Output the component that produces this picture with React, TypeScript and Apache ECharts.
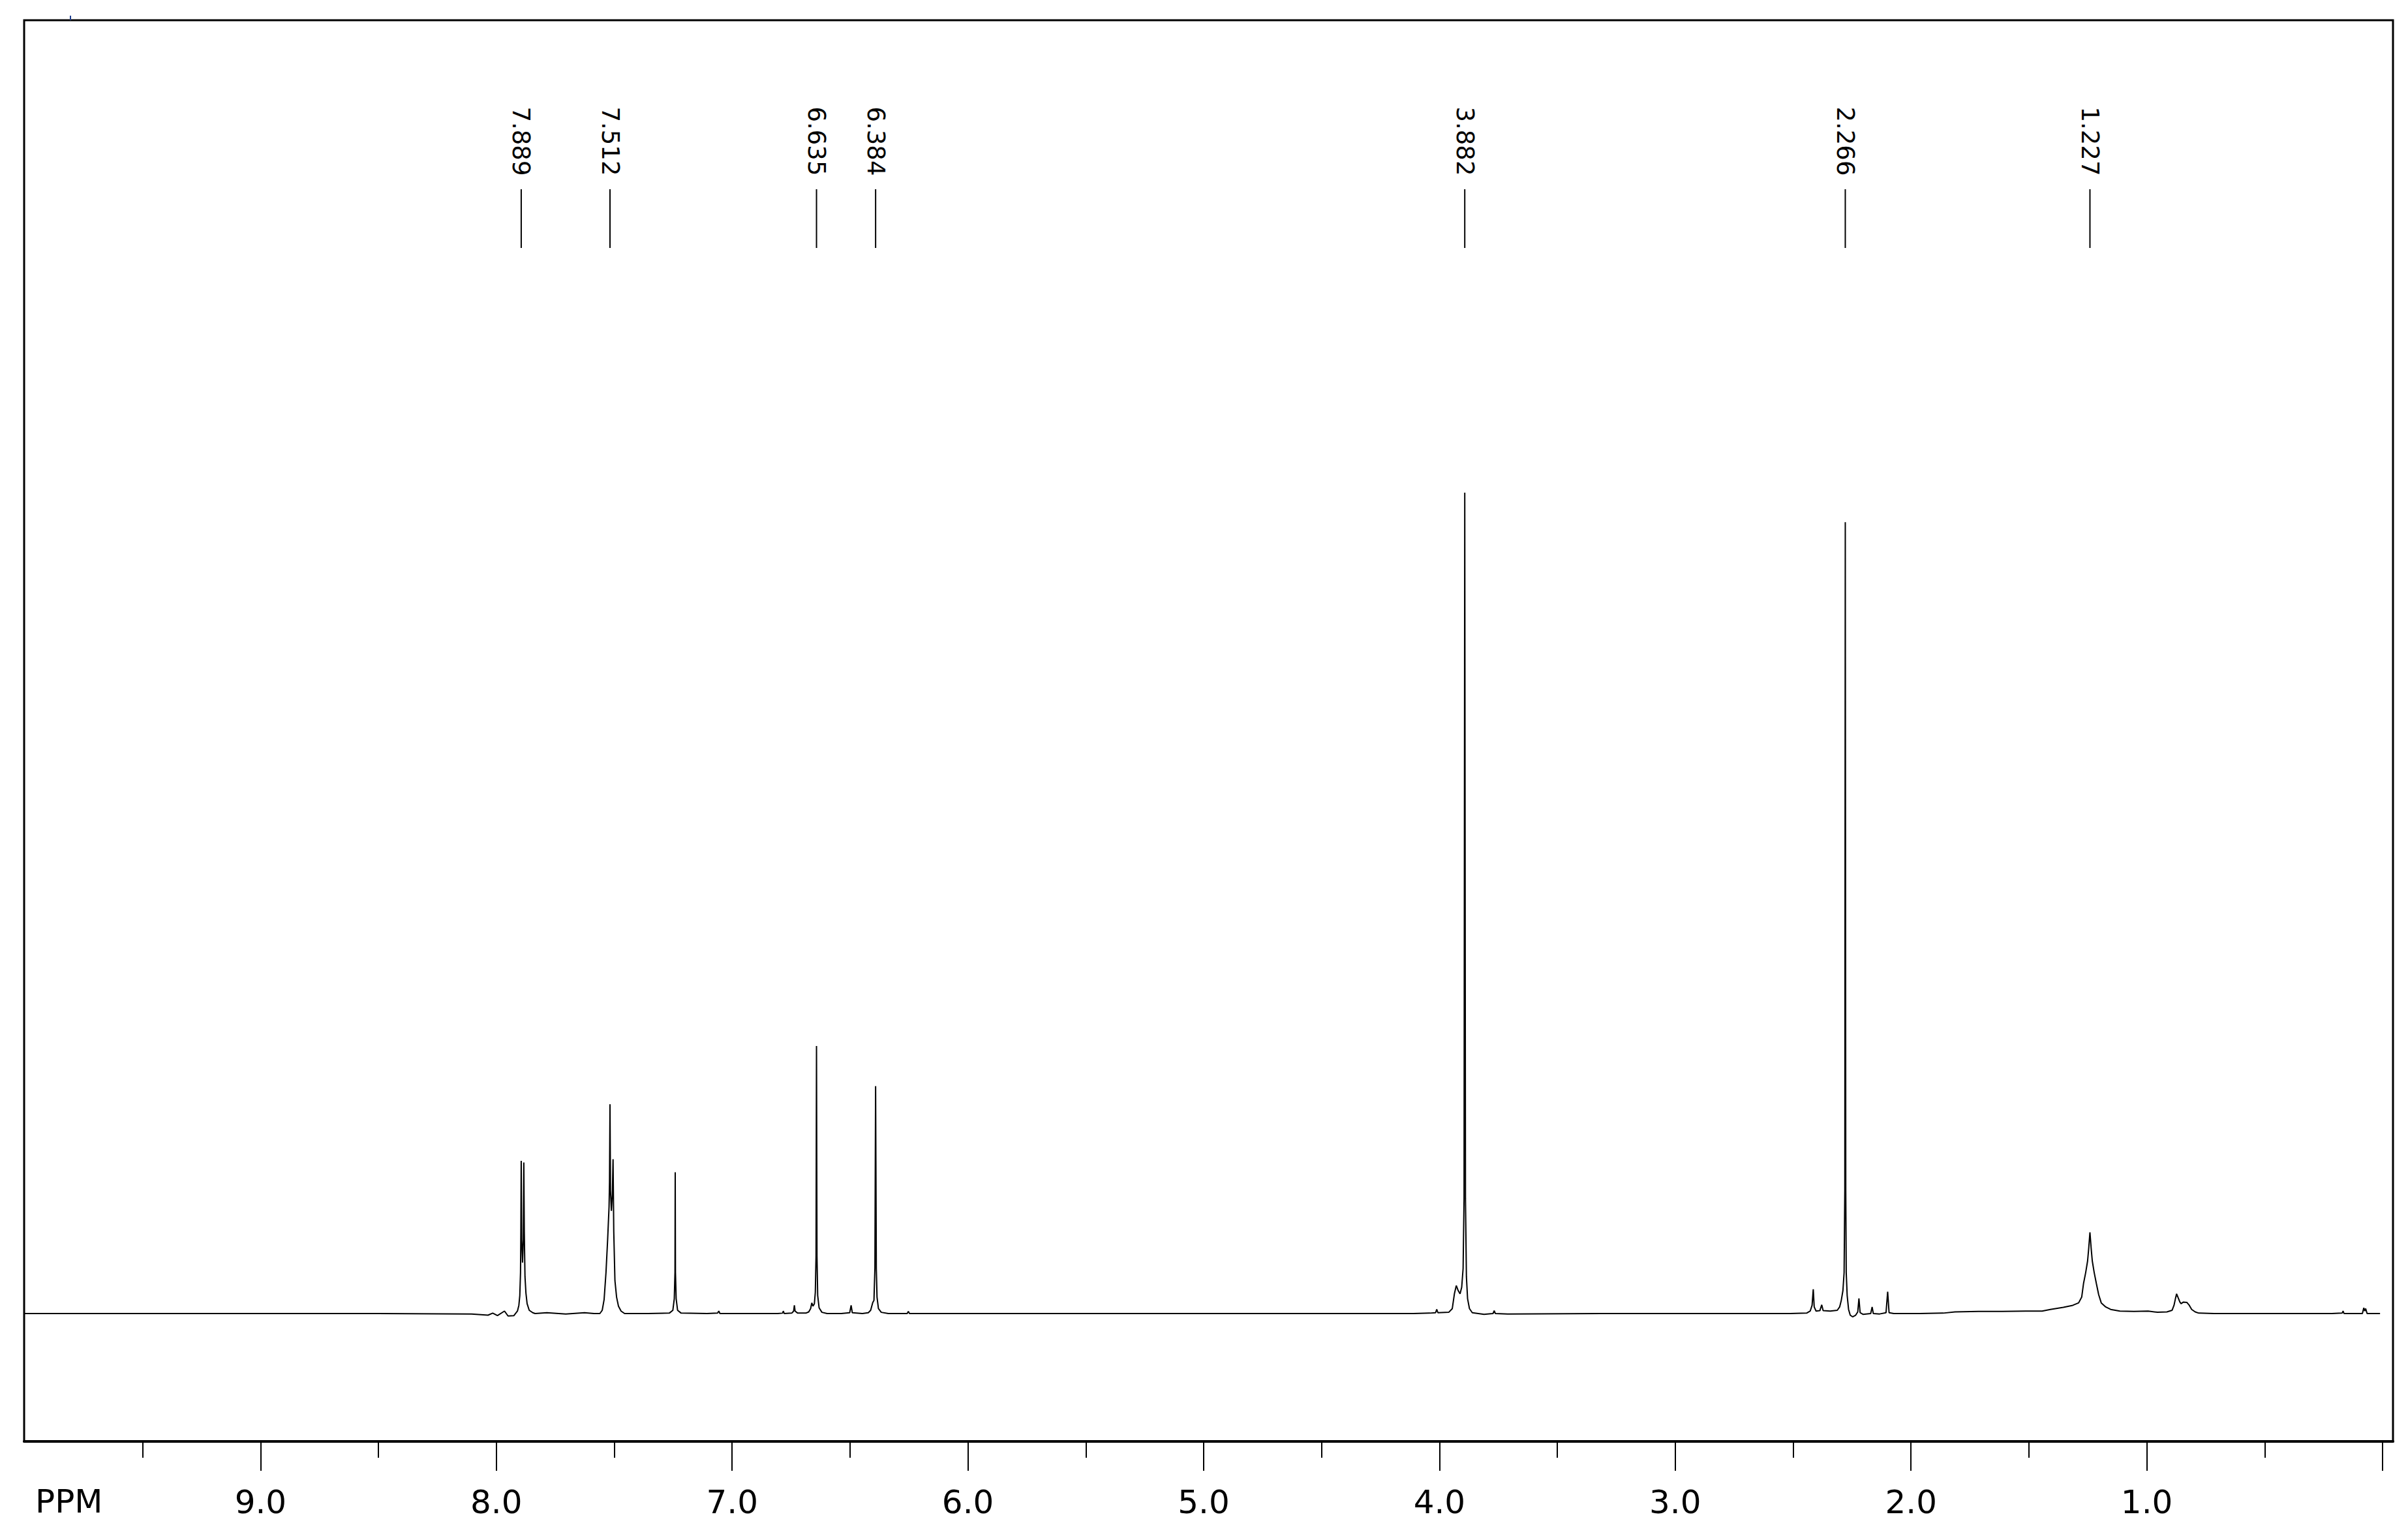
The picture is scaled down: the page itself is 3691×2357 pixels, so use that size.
import React, { useEffect, useRef } from "react";
import * as echarts from "echarts";

const FONT = "'DejaVu Sans', Verdana, sans-serif";

// Axis ticks / labels (ppm)
const majorTicks = [0, 1, 2, 3, 4, 5, 6, 7, 8, 9];
const tickLabels = [1, 2, 3, 4, 5, 6, 7, 8, 9];
const minorTicks = [0.5, 1.5, 2.5, 3.5, 4.5, 5.5, 6.5, 7.5, 8.5, 9.5];
const axisTitle = "PPM";

// Annotated peaks (ppm)
const peakLabels = [7.889, 7.512, 6.635, 6.384, 3.882, 2.266, 1.227];

// Spectrum: [ppm, relative intensity] (3.882 = 100)
const baselineLow = [
  [10.0, 0], [9.0, 0], [8.5, 0], [8.1, -0.05], [8.03, -0.2], [8.01, 0.05],
  [7.99, -0.25], [7.96, 0.3], [7.945, -0.3], [7.92, -0.25],
];
const doublet7889 = [
  [7.905, 0.3], [7.899, 1.0], [7.895, 2.2], [7.892, 5.0], [7.8905, 10.0],
  [7.889, 18.6], [7.887, 9.0], [7.8835, 6.2], [7.88, 9.0], [7.878, 18.4],
  [7.876, 10.0], [7.873, 4.5], [7.869, 2.5], [7.864, 1.2], [7.855, 0.4],
  [7.84, 0.1], [7.83, 0.0], [7.78, 0.1], [7.7, -0.05], [7.62, 0.1], [7.58, 0.0],
];
const multiplet7512 = [
  [7.555, 0.0], [7.545, 0.4], [7.537, 1.7], [7.529, 5.0], [7.522, 9.0],
  [7.516, 13.0], [7.514, 16.0], [7.512, 25.5], [7.51, 15.0], [7.506, 12.5],
  [7.502, 14.5], [7.499, 18.8], [7.496, 10.0], [7.491, 4.0], [7.484, 2.0],
  [7.476, 0.9], [7.465, 0.3], [7.45, 0.0],
];
const singlet7235 = [
  [7.35, 0.0], [7.26, 0.05], [7.245, 0.4], [7.239, 1.8], [7.236, 5.0],
  [7.235, 17.2], [7.234, 5.0], [7.231, 1.8], [7.225, 0.4], [7.21, 0.05],
];
const aromaticSmall = [
  [7.1, 0.0], [7.055, 0.05], [7.05, 0.3], [7.045, 0.0], [6.9, 0.0],
  [6.8, 0.0], [6.779, 0.05], [6.776, 0.3], [6.772, 0.0], [6.74, 0.05],
  [6.732, 0.3], [6.729, 1.0], [6.726, 0.3], [6.715, 0.05], [6.68, 0.05],
];
const singlet6635 = [
  [6.668, 0.2], [6.66, 0.6], [6.655, 1.3], [6.65, 0.9], [6.644, 1.2],
  [6.64, 2.6], [6.637, 7.0], [6.635, 32.6], [6.633, 7.0], [6.63, 2.2],
  [6.624, 0.7], [6.612, 0.15], [6.59, 0.0], [6.53, 0.0], [6.494, 0.1],
  [6.488, 1.0], [6.483, 0.1], [6.44, 0.0],
];
const singlet6384 = [
  [6.415, 0.1], [6.405, 0.4], [6.396, 1.35], [6.391, 1.6], [6.387, 5.5],
  [6.384, 27.7], [6.381, 5.5], [6.378, 2.0], [6.372, 0.6], [6.36, 0.15],
  [6.33, 0.0], [6.25, 0.0], [6.245, 0.25], [6.24, 0.0],
];
const methoxy3882 = [
  [5.5, 0.0], [4.5, 0.0], [4.1, 0.0], [4.03, 0.05], [4.006, 0.1],
  [4.001, 0.5], [3.996, 0.1], [3.95, 0.15], [3.935, 0.6], [3.926, 2.4],
  [3.918, 3.4], [3.91, 2.8], [3.902, 2.4], [3.895, 3.2], [3.889, 5.5],
  [3.885, 14.0], [3.882, 100.0], [3.879, 14.0], [3.875, 4.5], [3.87, 1.8],
  [3.862, 0.6], [3.85, 0.1], [3.8, -0.1], [3.762, 0.0], [3.757, 0.35],
  [3.752, 0.0], [3.7, -0.05], [3.3, 0.0], [2.8, 0.0],
];
const methyl2266 = [
  [2.5, 0.0], [2.43, 0.05], [2.415, 0.3], [2.407, 1.0], [2.402, 2.95],
  [2.398, 0.8], [2.39, 0.3], [2.374, 0.35], [2.366, 1.06], [2.36, 0.35],
  [2.33, 0.3], [2.3, 0.4], [2.29, 0.8], [2.283, 1.6], [2.276, 2.8],
  [2.271, 5.0], [2.268, 15.0], [2.266, 96.4], [2.264, 15.0], [2.262, 5.0],
  [2.258, 2.2], [2.252, 0.5], [2.245, -0.2], [2.235, -0.4], [2.222, -0.2],
  [2.213, 0.2], [2.208, 1.85], [2.203, 0.1], [2.19, -0.1], [2.158, 0.0],
  [2.152, 0.8], [2.147, 0.0], [2.12, -0.05], [2.093, 0.1], [2.086, 2.65],
  [2.08, 0.1], [2.06, 0.0], [1.95, 0.0], [1.85, 0.05], [1.8, 0.2],
  [1.7, 0.25], [1.6, 0.25], [1.5, 0.3],
];
const broad1227 = [
  [1.43, 0.3], [1.395, 0.5], [1.34, 0.75], [1.3, 1.0], [1.275, 1.3],
  [1.262, 2.0], [1.254, 3.7], [1.245, 5.0], [1.237, 6.4], [1.232, 8.0],
  [1.227, 9.9], [1.222, 8.0], [1.217, 6.4], [1.209, 5.0], [1.2, 3.7],
  [1.19, 2.3], [1.179, 1.3], [1.16, 0.8], [1.139, 0.5], [1.1, 0.3],
  [1.04, 0.25], [0.98, 0.3], [0.94, 0.15],
];
const aliphaticTail = [
  [0.9, 0.2], [0.878, 0.4], [0.87, 1.0], [0.864, 1.8], [0.859, 2.4],
  [0.852, 1.9], [0.845, 1.4], [0.84, 1.2], [0.83, 1.4], [0.815, 1.35],
  [0.805, 1.0], [0.795, 0.5], [0.78, 0.2], [0.765, 0.05], [0.7, 0.0],
  [0.5, 0.0], [0.2, 0.0], [0.156, 0.05], [0.152, 0.3], [0.148, 0.0],
  [0.07, 0.0], [0.064, 0.7], [0.06, 0.3], [0.056, 0.6], [0.05, 0.0],
  [-0.005, 0.0],
];

const spectrum = [
  ...baselineLow, ...doublet7889, ...multiplet7512, ...singlet7235,
  ...aromaticSmall, ...singlet6635, ...singlet6384, ...methoxy3882,
  ...methyl2266, ...broad1227, ...aliphaticTail,
];

export default function App() {
  const ref = useRef<HTMLDivElement>(null);
  useEffect(() => {
    if (!ref.current) return;
    const chart = echarts.init(ref.current, undefined, { renderer: "svg" });
    const dataRange = { min: -0.06, max: 10.0 };
    const scaleRange = { min: 0, max: 10 };
    const tickGrid = { left: 38, top: 2208, width: 3614, height: 1, show: false };
    const option: any = {
      animation: false,
      backgroundColor: "#ffffff",
      grid: [
        { left: 37, top: 31, width: 3631, height: 2178, show: true, borderColor: "#000", borderWidth: 3, backgroundColor: "transparent" },
        { ...tickGrid },
        { ...tickGrid },
      ],
      xAxis: [
        {
          type: "value", gridIndex: 0, min: dataRange.min, max: dataRange.max, inverse: true, position: "bottom",
          axisLine: { show: true, onZero: false, lineStyle: { color: "#000", width: 4 } },
          axisTick: { show: false },
          axisLabel: { show: false },
          splitLine: { show: false },
        },
        {
          type: "value", gridIndex: 1, min: scaleRange.min, max: scaleRange.max, inverse: true, position: "bottom",
          axisLine: { show: false, onZero: false },
          axisTick: { show: true, inside: false, length: 45, lineStyle: { color: "#000", width: 2 }, customValues: majorTicks },
          axisLabel: {
            show: true, customValues: tickLabels, formatter: (v: number) => v.toFixed(1),
            fontSize: 50, fontFamily: FONT, color: "#000", margin: 68,
          },
          splitLine: { show: false },
        },
        {
          type: "value", gridIndex: 2, min: scaleRange.min, max: scaleRange.max, inverse: true, position: "bottom",
          axisLine: { show: false, onZero: false },
          axisTick: { show: true, inside: false, length: 25, lineStyle: { color: "#000", width: 2 }, customValues: minorTicks },
          axisLabel: { show: false },
          splitLine: { show: false },
        },
      ],
      yAxis: [
        { type: "value", gridIndex: 0, min: -15.58, max: 157.55, show: false },
        { type: "value", gridIndex: 1, min: 0, max: 1, show: false },
        { type: "value", gridIndex: 2, min: 0, max: 1, show: false },
      ],
      series: [
        {
          type: "line", xAxisIndex: 0, yAxisIndex: 0, data: spectrum,
          showSymbol: false, symbol: "none", clip: true, silent: true,
          lineStyle: { color: "#000", width: 2 },
        },
        {
          type: "custom", xAxisIndex: 0, yAxisIndex: 0, silent: true,
          data: peakLabels.map((p) => [p, 0]),
          renderItem: (params: any, api: any) => {
            const ppm = peakLabels[params.dataIndex];
            const x = api.coord([ppm, 0])[0];
            return {
              type: "group",
              children: [
                { type: "line", shape: { x1: x, y1: 290, x2: x, y2: 380 }, style: { stroke: "#000", lineWidth: 2 } },
                {
                  type: "text", x: x, y: 216.5, rotation: -Math.PI / 2,
                  style: { text: ppm.toFixed(3), fontSize: 37, fontFamily: FONT, fill: "#000", align: "center", verticalAlign: "middle" },
                },
              ],
            };
          },
        },
      ],
      graphic: [
        { type: "text", left: 54, top: 2276, style: { text: axisTitle, fontSize: 50, fontFamily: FONT, fill: "#000" } },
        { type: "line", shape: { x1: 108, y1: 24, x2: 108, y2: 31 }, style: { stroke: "#1f3f8f", lineWidth: 2 } },
      ],
    };
    chart.setOption(option);
    return () => chart.dispose();
  }, []);
  return (
    <div
      ref={ref}
      style={{ position: "absolute", left: 0, top: 0, width: 3691, height: 2357, background: "#fff" }}
    />
  );
}
